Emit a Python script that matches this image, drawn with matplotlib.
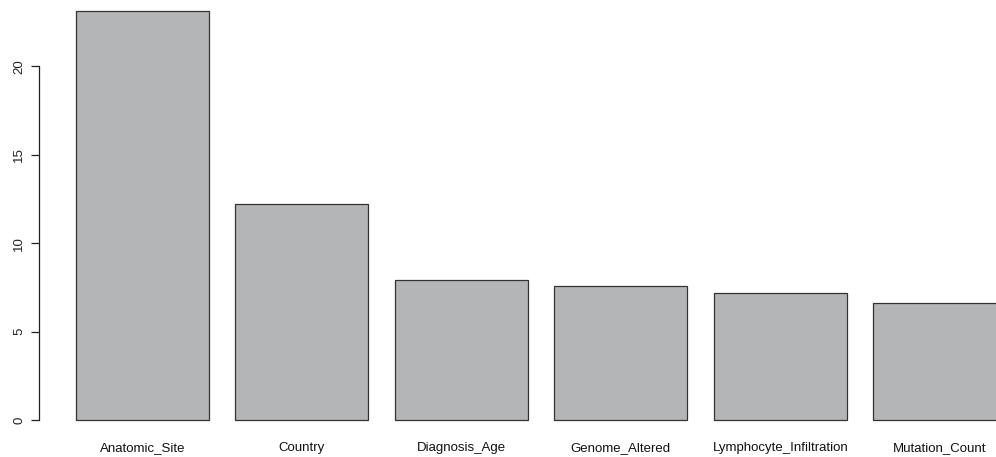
import matplotlib
matplotlib.use("Agg")
import matplotlib.pyplot as plt

categories = ["Anatomic_Site", "Country", "Diagnosis_Age", "Genome_Altered",
              "Lymphocyte_Infiltration", "Mutation_Count"]
values = [23.13, 12.22, 7.92, 7.56, 7.17, 6.63]
yticks = [0, 5, 10, 15, 20]

plt.rcParams["font.family"] = ["Liberation Sans", "DejaVu Sans"]

W, H = 996, 457
fig = plt.figure(figsize=(W / 100, H / 100), dpi=100)
ax = fig.add_axes([0, 0, 1, 1])

# barplot layout: width 1, gap 0.2
width = 1.0
space = 0.2
lefts = [space + i * (width + space) for i in range(len(values))]
centers = [l + width / 2 for l in lefts]

ax.bar(lefts, values, width=width, align="edge", color="#b4b5b7",
       edgecolor="#333333", linewidth=0.9)

# pixel-to-data mapping
px_per_x = 132.9
x0_px = 49.4
px_per_y = 17.68
y0_px = 420.0
ax.set_xlim(-x0_px / px_per_x, (W - x0_px) / px_per_x)
ax.set_ylim(-(H - y0_px) / px_per_y, y0_px / px_per_y)

for s in ["top", "right", "bottom"]:
    ax.spines[s].set_visible(False)
ax.spines["left"].set_position(("data", (39.3 - x0_px) / px_per_x))
ax.spines["left"].set_bounds(0, 20)
ax.spines["left"].set_linewidth(0.9)
ax.spines["left"].set_color("#222222")

ax.set_yticks(yticks)
ax.set_yticklabels([str(t) for t in yticks], rotation=90, va="center",
                   fontsize=9.5, color="#222222")
ax.tick_params(axis="y", length=6, width=0.9, pad=4, colors="#222222")
ax.set_xticks([])

label_y = -(448 - y0_px) / px_per_y
for c, name in zip(centers, categories):
    ax.text(c, label_y, name, ha="center", va="center", fontsize=9.5,
            color="#111111")

fig.savefig("out.png", dpi=100)
